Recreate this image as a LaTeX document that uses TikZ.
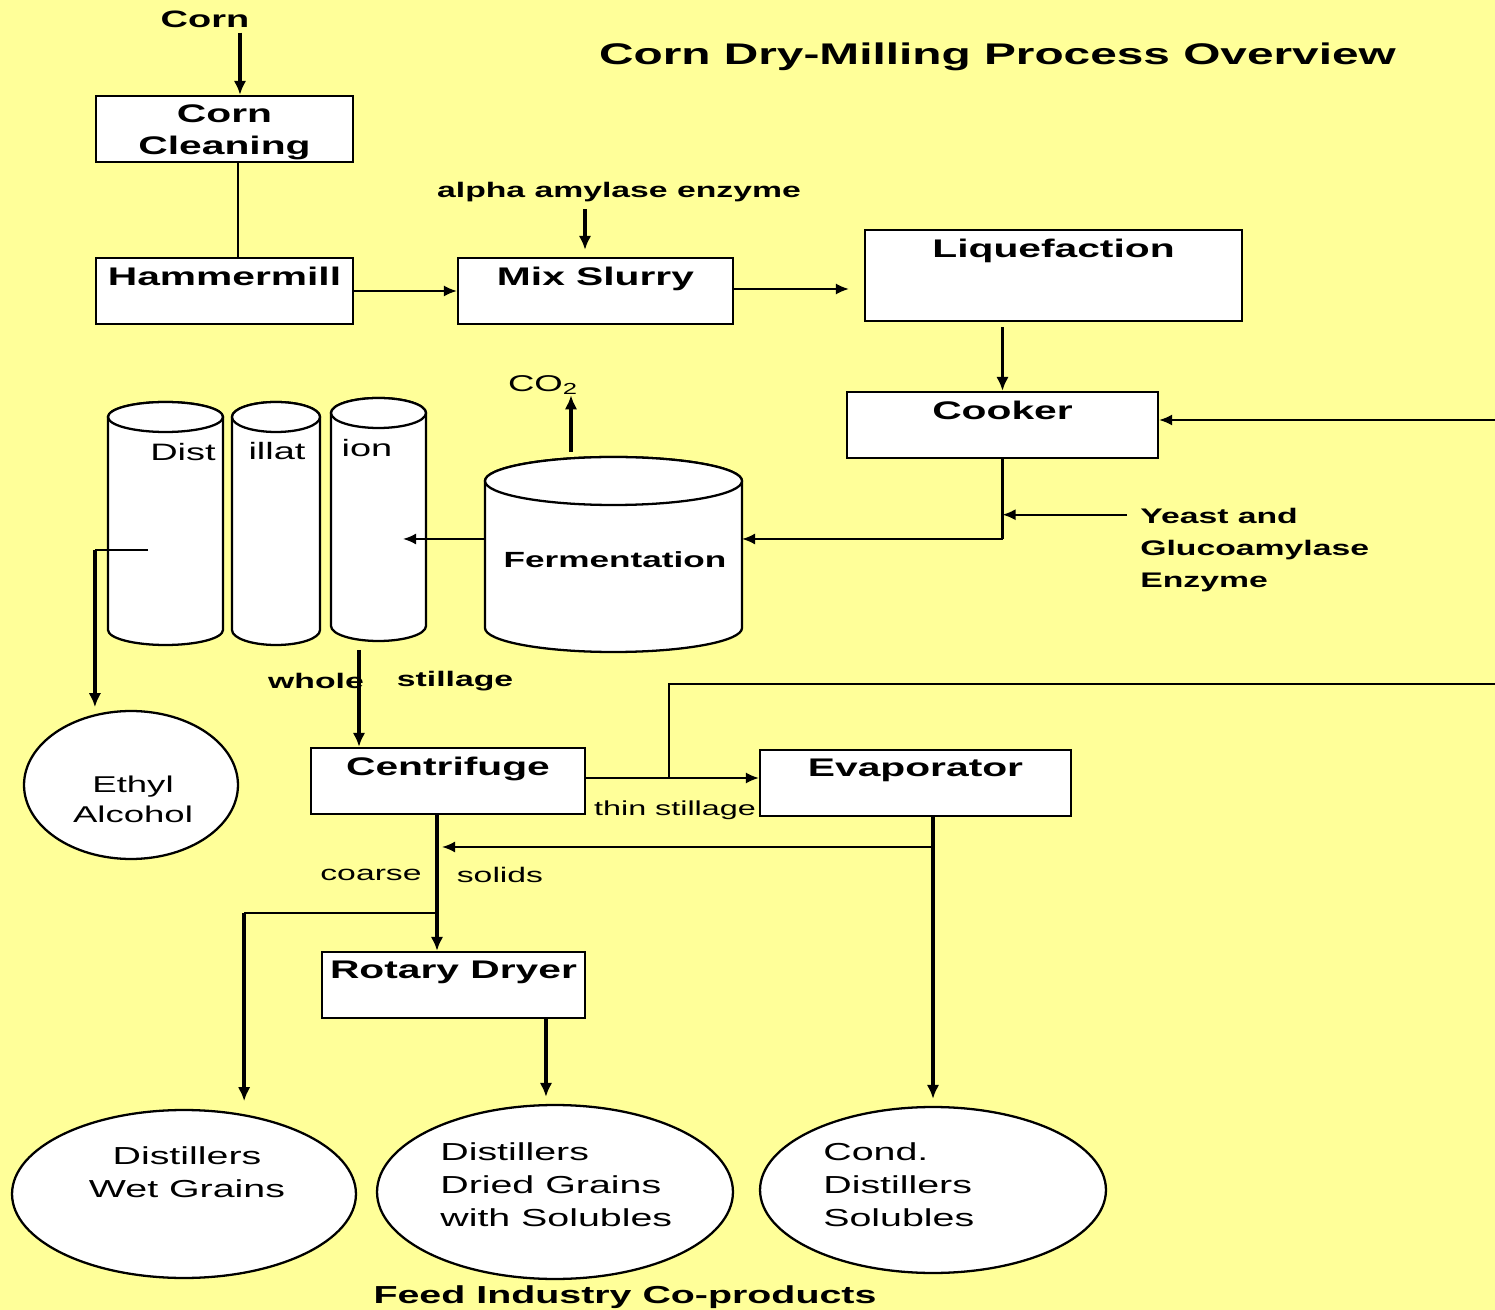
\documentclass[tikz,border=0pt]{standalone}
\usepackage{fontspec}
\setmainfont{Liberation Sans}[FakeStretch=1.6]
\usetikzlibrary{shapes.geometric, arrows.meta}
\definecolor{bgyellow}{RGB}{255,255,153}

\begin{document}
\begin{tikzpicture}[x=0.02cm, y=-0.02cm]

\tikzstyle{unit} = [rectangle, draw, fill=white, line width=1.3pt, inner sep=0pt, minimum height=1.32cm]
\tikzstyle{unitname} = [anchor=north, inner sep=5.5pt, align=center, font=\fontsize{14.5}{18}\selectfont\bfseries]
\tikzstyle{product} = [ellipse, draw, fill=white, line width=1.3pt, inner sep=0pt]
\tikzstyle{tank} = [draw, fill=white, line width=1.3pt]
\tikzstyle{arrow} = [line width=1.9pt, -{Latex[length=0.28cm, width=0.25cm]}]
\tikzstyle{thinarrow} = [line width=1.1pt, -{Latex[length=0.26cm, width=0.22cm]}]
\tikzstyle{pipe} = [line width=1.2pt]
\tikzstyle{note} = [inner sep=0pt, font=\fontsize{12}{18}\selectfont\bfseries]
\tikzstyle{plain} = [inner sep=0pt, font=\fontsize{12}{18}\selectfont]

\useasboundingbox (0,0) rectangle (1495,1310);
\fill[bgyellow] (0,0) rectangle (1495,1310);
\clip (0,0) rectangle (1495,1310);

\node (title) [note, font=\fontsize{17}{20}\selectfont\bfseries] at (997.5,57) {Corn Dry-Milling Process Overview};
\node (corn) [note, font=\fontsize{13.5}{16}\selectfont\bfseries] at (205,19) {Corn};

\node (clean) [unit, minimum width=5.14cm, label={[unitname]north:Corn\\Cleaning}] at (224.5,129) {};
\node (ham) [unit, minimum width=5.14cm, label={[unitname]north:Hammermill}] at (224.5,291) {};
\node (mix) [unit, minimum width=5.5cm, label={[unitname]north:Mix Slurry}] at (595.5,291) {};
\node (alpha) [note] at (619,192) {alpha amylase enzyme};
\node (liq) [unit, minimum width=7.54cm, minimum height=1.82cm, label={[unitname]north:Liquefaction}] at (1053.5,275.5) {};
\node (cook) [unit, minimum width=6.22cm, label={[unitname]north:Cooker}] at (1002.5,425) {};
\node (yeast) [note, anchor=west, align=left] at (1140,550) {Yeast and\\Glucoamylase\\Enzyme};

% distillation columns and fermenter
\foreach \cx/\rx/\yt/\yb/\ry in {165.5/57.5/417/630/15, 276/44/417/630/15, 378.5/47.5/413/626/15, 613.5/128.5/481/628/24}{
  \draw[tank] (\cx-\rx,\yt) -- (\cx-\rx,\yb)
    arc[start angle=180, end angle=360, x radius=\rx*0.02cm, y radius=\ry*0.02cm]
    -- (\cx+\rx,\yt)
    arc[start angle=0, end angle=180, x radius=\rx*0.02cm, y radius=\ry*0.02cm] -- cycle;
  \draw[tank] (\cx,\yt) ellipse[x radius=\rx*0.02cm, y radius=\ry*0.02cm];
}
\node (dist1) [plain, font=\fontsize{13.5}{16}\selectfont] at (183,452) {Dist};
\node (dist2) [plain, font=\fontsize{13.5}{16}\selectfont] at (277,451) {illat};
\node (dist3) [plain, font=\fontsize{13.5}{16}\selectfont] at (367,448) {ion};
\node (ferm) [note, font=\fontsize{12.5}{16}\selectfont\bfseries] at (615,560) {Fermentation};
\node (co2) [plain, font=\fontsize{13}{16}\selectfont] at (543,385) {CO\textsubscript{2}};

\coordinate (fermL) at (485,539);
\coordinate (fermR) at (742,539);
\coordinate (fermT) at (571,452);
\coordinate (colin) at (403,539);
\coordinate (colout) at (148,550);
\coordinate (colbot) at (359,650);

\node (eth) [product, minimum width=4.28cm, minimum height=2.96cm] at (131,785) {};
\node (ethtext) [plain, font=\fontsize{13}{17}\selectfont, align=center] at (133,799) {Ethyl\\Alcohol};

\node (whole) [note] at (316,681) {whole};
\node (still) [note] at (455,681) {stillage};
\node (cent) [unit, minimum width=5.48cm, label={[unitname]north:Centrifuge}] at (448,781) {};
\node (evap) [unit, minimum width=6.22cm, label={[unitname]north:Evaporator}] at (915.5,783) {};
\node (thin) [plain, font=\fontsize{11.5}{14}\selectfont] at (675,810) {thin stillage};
\node (coarse) [plain] at (371,875) {coarse};
\node (solids) [plain] at (500,875) {solids};
\node (rot) [unit, minimum width=5.26cm, label={[unitname]north:Rotary Dryer}] at (453.5,985) {};

\node (dwg) [product, minimum width=6.88cm, minimum height=3.36cm] at (184,1194) {};
\node (ddgs) [product, minimum width=7.12cm, minimum height=3.48cm] at (555,1192) {};
\node (cds) [product, minimum width=6.92cm, minimum height=3.32cm] at (933,1190) {};
\node (dwgtext) [plain, font=\fontsize{14}{18.7}\selectfont, align=center] at (187,1172) {Distillers\\Wet Grains};
\node (ddgstext) [plain, font=\fontsize{14}{18.7}\selectfont, align=left, anchor=west] at (440,1185) {Distillers\\Dried Grains\\with Solubles};
\node (cdstext) [plain, font=\fontsize{14}{18.7}\selectfont, align=left, anchor=west] at (823,1185) {Cond.\\Distillers\\Solubles};
\node (feed) [note, font=\fontsize{14}{16}\selectfont\bfseries] at (625,1297) {Feed Industry Co-products};

\coordinate (yeastin) at ([xshift=-0.26cm, yshift=-0.13cm]yeast.north west);
\coordinate (thinsplit) at (669,778);
\coordinate (offright) at (1520,684);
\coordinate (solidsret) at (933,847);
\coordinate (coarsedrop) at ([xshift=-0.22cm]cent.south);
\coordinate (wetsplit) at (coarsedrop |- 0,913);
\coordinate (cookdrop) at (cook.south |- fermR);
\coordinate (ethdrop) at (colout -| eth.117);
\coordinate (wetdrop) at (wetsplit -| dwg.53);

\draw [arrow] ([xshift=0.7cm, yshift=-0.1cm]corn.south) -- ([xshift=0.7cm]corn.south |- clean.north);
\draw [pipe] ([xshift=0.27cm]clean.south) -- ([xshift=0.27cm]ham.north);
\draw [thinarrow] (ham.east) -- (mix.west);
\draw [arrow, shorten >=0.14cm] ([xshift=-0.68cm, yshift=-0.14cm]alpha.south) -- ([xshift=-0.68cm]alpha.south |- mix.north);
\draw [thinarrow, shorten >=0.3cm] ([yshift=0.04cm]mix.east) -- ([yshift=0.04cm]mix.east -| liq.west);
\draw [arrow, shorten <=0.1cm] (liq.south -| cook.north) -- (cook.north);
\draw [pipe, line width=1.4pt] (cook.south) -- (cookdrop);
\draw [thinarrow] (cookdrop) -- (fermR);
\draw [thinarrow] (yeastin) -- (yeastin -| cook.south);
\draw [arrow] (fermT) -- (fermT |- co2.south);
\draw [thinarrow] (fermL) -- (colin);
\draw [pipe, line width=1pt] (colout) -- (ethdrop);
\draw [arrow, shorten >=0.14cm] (ethdrop) -- (eth.117);
\draw [arrow] (colbot) -- (colbot |- cent.north);
\draw [thinarrow] (thinsplit) -- (thinsplit -| evap.west);
\draw [pipe] (cent.east |- thinsplit) -- (thinsplit);
\draw [thinarrow] (thinsplit) |- (offright) |- ([yshift=0.1cm]cook.east);
\draw [arrow, shorten >=0.14cm] (cds.north |- evap.south) -- (cds.north);
\draw [thinarrow, shorten >=0.1cm] (solidsret) -- (solidsret -| coarsedrop);
\draw [arrow] (coarsedrop) -- (coarsedrop |- rot.north);
\draw [pipe, line width=1.1pt] (wetsplit) -- (wetdrop);
\draw [arrow, shorten >=0.26cm] (wetdrop) -- (dwg.53);
\draw [arrow, shorten >=0.14cm] ([xshift=1.85cm]rot.south) -- ([xshift=1.85cm]rot.south |- ddgs.north);

\end{tikzpicture}
\end{document}
